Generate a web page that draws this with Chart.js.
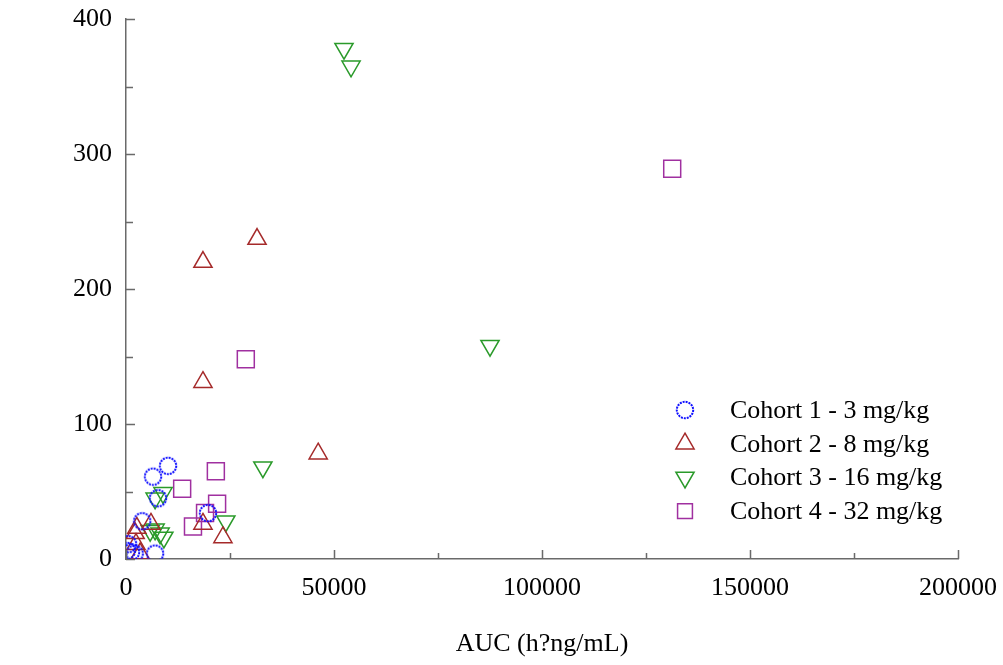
<!DOCTYPE html>
<html>
<head>
<meta charset="utf-8">
<script src="https://cdn.jsdelivr.net/npm/chart.js@4"></script>
<style>
  html, body { margin: 0; padding: 0; background: #fff; }
  #wrap { width: 1003px; height: 665px; }
</style>
</head>
<body>
<div id="wrap"><canvas id="pkChart" width="1003" height="665"></canvas></div>
<script>
// --- datos: [AUC, valor] ---
const cohortLabels = ['Cohort 1 - 3 mg/kg', 'Cohort 2 - 8 mg/kg', 'Cohort 3 - 16 mg/kg', 'Cohort 4 - 32 mg/kg'];

const cohort1 = [[10100, 69], [6500, 61], [7700, 45], [19700, 34], [3900, 28], [500, 11], [200, 6], [2100, 4], [7000, 4], [1200, 5]];
const cohort2 = [[31500, 237], [18500, 220], [18500, 131], [46200, 78], [23300, 16], [18500, 26], [6000, 26], [2600, 23], [2200, 19], [2400, 11], [3400, 4]];
const cohort3 = [[52400, 378], [54100, 365], [87500, 158], [32900, 68], [24000, 28], [7000, 45], [8900, 49], [7000, 22], [8200, 19], [9100, 16], [5800, 21]];
const cohort4 = [[131300, 289], [28800, 148], [21600, 65], [13500, 52], [21900, 41], [19000, 34], [16100, 24]];

const xTicks = [0, 50000, 100000, 150000, 200000];
const yTicks = [0, 100, 200, 300, 400];
const xTitle = 'AUC (h?ng/mL)';

const SERIF = "'Liberation Serif', 'Times New Roman', serif";
const AXIS_COLOR = '#6a6a6a';

// marcador del cohorte 1: círculo punteado azul
function dottedCircle() {
  const c = document.createElement('canvas');
  c.width = 22; c.height = 22;
  const g = c.getContext('2d');
  g.strokeStyle = '#1010ff';
  g.lineWidth = 2;
  g.setLineDash([2, 1]);
  g.beginPath();
  g.arc(11, 11, 8.2, 0, Math.PI * 2);
  g.stroke();
  return c;
}
const circleImg = dottedCircle();

const toPts = arr => arr.map(p => ({ x: p[0], y: p[1] }));

const STYLES = [
  { pointStyle: circleImg, color: '#1010ff', radius: 9, legendRadius: 9, rotation: 0 },
  { pointStyle: 'triangle', color: '#a52a2a', radius: 10.5, legendRadius: 10.5, rotation: 0 },
  { pointStyle: 'triangle', color: '#2a9a2a', radius: 10.5, legendRadius: 10.5, rotation: 180 },
  { pointStyle: 'rect', color: '#a030a0', radius: 12, legendRadius: 10.5, rotation: 0 },
];

// ticks hacia adentro (mayores y menores)
const innerTicks = {
  id: 'innerTicks',
  afterDatasetsDraw(chart) {
    const { ctx, chartArea, scales: { x, y } } = chart;
    ctx.save();
    ctx.strokeStyle = AXIS_COLOR;
    ctx.lineWidth = 1.5;
    ctx.beginPath();
    for (let v = 0; v <= 400; v += 50) {
      const py = Math.round(y.getPixelForValue(v)) + 0.5;
      const len = v % 100 === 0 ? 9 : 7;
      ctx.moveTo(chartArea.left, py);
      ctx.lineTo(chartArea.left + len, py);
    }
    for (let v = 0; v <= 200000; v += 25000) {
      const px = Math.round(x.getPixelForValue(v)) + 0.5;
      const len = v % 50000 === 0 ? 9 : 6;
      ctx.moveTo(px, chartArea.bottom);
      ctx.lineTo(px, chartArea.bottom - len);
    }
    ctx.stroke();
    ctx.restore();
  }
};

// leyenda dentro del área
const insideLegend = {
  id: 'insideLegend',
  afterDraw(chart) {
    const { ctx } = chart;
    const mx = 685, tx = 730, y0 = 410, dy = 33.7;
    ctx.save();
    ctx.font = '26px ' + SERIF;
    ctx.textBaseline = 'middle';
    chart.data.datasets.forEach((ds, i) => {
      const st = STYLES[i];
      const yy = y0 + i * dy;
      ctx.strokeStyle = st.color;
      ctx.fillStyle = 'rgba(0,0,0,0)';
      ctx.lineWidth = 1.5;
      Chart.helpers.drawPoint(ctx, {
        pointStyle: st.pointStyle,
        radius: st.legendRadius,
        rotation: st.rotation,
        borderWidth: 1.5
      }, mx, yy);
      ctx.fillStyle = '#000';
      ctx.fillText(ds.label, tx, yy + 1);
    });
    ctx.restore();
  }
};

new Chart(document.getElementById('pkChart'), {
  type: 'scatter',
  data: {
    datasets: [cohort1, cohort2, cohort3, cohort4].map((arr, i) => ({
      label: cohortLabels[i],
      data: toPts(arr),
      pointStyle: STYLES[i].pointStyle,
      rotation: STYLES[i].rotation,
      radius: STYLES[i].radius,
      borderColor: STYLES[i].color,
      backgroundColor: 'rgba(0,0,0,0)',
      borderWidth: 1.5,
    }))
  },
  options: {
    responsive: false,
    animation: false,
    layout: { padding: { top: 19, right: 45, bottom: 0, left: 0 } },
    plugins: { legend: { display: false }, tooltip: { enabled: false } },
    scales: {
      x: {
        type: 'linear',
        min: 0, max: 200000,
        afterBuildTicks: s => { s.ticks = xTicks.map(v => ({ value: v })); },
        afterFit: s => { s.height = 106; s.paddingLeft = 0; s.paddingRight = 0; },
        grid: { display: false, drawTicks: false },
        border: { display: true, color: AXIS_COLOR, width: 1.5 },
        ticks: {
          padding: 14,
          maxRotation: 0,
          color: '#000',
          font: { family: SERIF, size: 26 },
          callback: v => String(v)
        },
        title: {
          display: true,
          text: xTitle,
          color: '#000',
          font: { family: SERIF, size: 26 },
          padding: { top: 0, bottom: 5 }
        }
      },
      y: {
        type: 'linear',
        min: 0, max: 400,
        afterBuildTicks: s => { s.ticks = yTicks.map(v => ({ value: v })); },
        afterFit: s => { s.width = 126; s.paddingTop = 0; s.paddingBottom = 0; },
        grid: { display: false, drawTicks: false },
        border: { display: true, color: AXIS_COLOR, width: 1.5 },
        ticks: {
          padding: 14,
          color: '#000',
          font: { family: SERIF, size: 26 },
          callback: v => String(v)
        }
      }
    }
  },
  plugins: [innerTicks, insideLegend]
});
</script>
</body>
</html>
